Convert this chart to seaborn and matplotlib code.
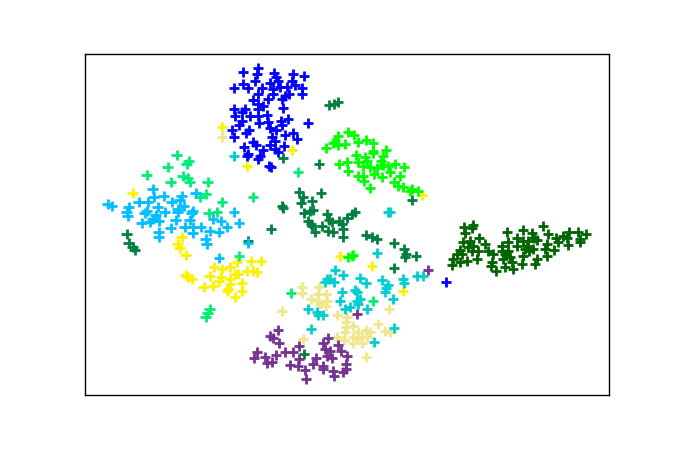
import pandas as pd
import matplotlib
matplotlib.use("Agg")
import matplotlib.pyplot as plt
import seaborn as sns

# embedding coordinates, one list per cluster
blue_pts = [(243,73),(258,69),(257,75),(255,82),(274,74),(276,78),(293,75),(304,77),(292,82),(243,85),(248,89),(234,89),
    (270,84),(278,82),(273,90),(280,88),(287,88),(295,86),(302,89),(302,95),(262,89),(258,95),(289,95),(285,97),(273,95),
    (253,101),(268,100),(282,100),(258,105),(263,107),(234,110),(245,110),(242,113),(235,117),(250,117),(258,110),(258,117),
    (267,116),(283,109),(288,120),(281,122),(268,123),(242,122),(239,126),(259,124),(282,126),(308,124),(232,131),(249,131),
    (246,134),(234,138),(270,129),(276,131),(285,136),(293,134),(297,140),(272,138),(275,142),(253,143),(256,146),(284,147),
    (270,146),(244,148),(275,150),(278,153),(263,151),(248,155),(247,157),(260,157),(258,160),(269,167),(271,168),(446,283)]
lime_pts = [(326,149),(338,137),(335,143),(333,144),(338,146),(345,145),(348,133),(354,136),(358,143),(366,141),(373,144),
    (373,152),(373,154),(386,151),(383,157),(356,156),(365,158),(367,162),(381,162),(339,165),(347,163),(348,172),(358,163),
    (363,167),(370,168),(377,169),(383,166),(388,167),(395,165),(404,168),(390,173),(374,175),(382,178),(358,177),(363,177),
    (364,182),(400,177),(394,183),(398,187),(370,189),(403,188),(410,192),(418,192),(412,190),(348,258),(352,257),(353,256)]
spring_pts = [(177,156),(189,162),(187,165),(168,168),(147,176),(183,177),(188,179),(190,183),(171,183),(208,183),(206,195),
    (200,198),(222,203),(209,214),(217,213),(253,198),(239,257),(210,310),(208,314),(206,318),(298,173),(291,294),(373,302)]
sky_pts = [(108,205),(112,207),(129,208),(127,213),(128,217),(139,203),(153,190),(154,198),(164,197),(148,203),(158,208),
    (147,212),(145,214),(165,213),(172,203),(182,197),(180,201),(184,207),(178,210),(178,213),(196,194),(193,212),(192,214),
    (176,221),(190,221),(156,216),(153,220),(159,222),(150,223),(142,224),(171,229),(185,228),(193,228),(201,228),(193,234),
    (159,233),(159,238),(210,232),(219,233),(221,222),(227,228),(213,220),(234,213),(239,224),(206,240),(207,245),(248,244),(219,259)]
yellow_pts = [(222,128),(292,151),(247,167),(133,194),(178,245),(182,238),(180,249),(186,256),(186,276),(188,278),(192,280),
    (204,288),(213,287),(210,277),(214,268),(222,270),(221,278),(219,282),(230,268),(237,263),(235,275),(230,280),(238,275),
    (228,290),(227,292),(235,298),(242,284),(242,292),(247,272),(251,262),(261,262),(253,272),(257,273),(230,285),(422,196),
    (340,257),(372,267),(403,292)]
sea_pts = [(329,106),(334,105),(338,103),(283,159),(319,165),(127,235),(129,244),(133,248),(135,251),(271,230),(248,242),
    (299,193),(303,198),(301,204),(321,194),(282,207),(283,209),(312,202),(313,211),(310,212),(304,214),(308,222),(311,225),
    (312,227),(315,233),(322,227),(327,215),(329,221),(332,223),(328,232),(333,233),(339,222),(347,219),(352,215),(355,213),
    (342,225),(343,230),(343,238),(366,236),(372,238),(377,240),(394,244),(404,250),(406,255),(405,258),(416,257),(394,269),
    (412,201),(304,355)]
turquoise_pts = [(234,157),(388,213),(390,213),(377,254),(335,271),(343,276),(330,280),(327,280),(325,283),(334,283),(360,279),
    (366,284),(382,281),(388,286),(386,289),(403,280),(404,284),(417,277),(423,277),(342,293),(355,291),(357,293),(340,302),
    (357,302),(360,300),(358,305),(393,300),(385,293),(308,310),(317,313),(318,316),(323,316),(345,310),(350,308),(367,310),
    (311,330),(394,329),(374,343)]
khaki_pts = [(222,138),(302,288),(302,294),(319,288),(318,295),(326,295),(311,300),(318,302),(327,302),(320,305),(326,307),
    (282,312),(337,316),(389,310),(347,318),(346,323),(346,328),(353,327),(345,333),(366,331),(378,325),(385,332),(390,333),
    (337,338),(303,340),(344,341),(353,338),(358,333),(353,344),(362,344),(367,338),(370,333),(366,358),(362,338),(357,340)]
purple_pts = [(428,271),(357,315),(278,331),(270,337),(273,339),(279,344),(257,353),(254,359),(265,358),(267,364),(272,363),
    (276,356),(285,353),(293,353),(299,347),(299,360),(290,366),(298,367),(305,371),(306,380),(328,339),(323,344),(325,350),
    (330,352),(338,346),(341,352),(347,357),(332,359),(327,357),(316,359),(313,365),(323,367),(323,370),(333,372),(334,377),
    (346,365),(346,370),(343,373)]
dark_pts = [(464,228),(473,226),(472,229),(465,234),(507,233),(523,231),(543,227),(548,235),(532,234),(534,239),(569,233),
    (578,233),(586,235),(563,237),(556,239),(567,239),(558,243),(568,246),(580,240),(580,243),(517,239),(523,242),(528,242),
    (537,241),(508,243),(502,247),(463,243),(470,242),(479,239),(485,245),(473,247),(468,248),(460,251),(457,255),(462,255),
    (472,252),(478,252),(488,252),(493,255),(453,260),(452,266),(460,263),(467,262),(477,260),(492,263),(491,267),(496,272),
    (505,268),(513,270),(502,252),(505,255),(508,252),(503,260),(512,263),(522,265),(523,257),(529,252),(525,250),(533,250),
    (547,245),(545,250),(554,251),(547,257),(537,260),(535,265),(517,247),(527,247),(510,258)]

clusters = {
    "khaki": khaki_pts,
    "yellow": yellow_pts,
    "turquoise": turquoise_pts,
    "sea": sea_pts,
    "spring": spring_pts,
    "sky": sky_pts,
    "lime": lime_pts,
    "blue": blue_pts,
    "purple": purple_pts,
    "dark": dark_pts,
}
palette = {
    "khaki": "#f0e68c",
    "yellow": "#fbf200",
    "turquoise": "#00ced1",
    "sea": "#007f3f",
    "spring": "#00ee76",
    "sky": "#00bfff",
    "lime": "#00ff00",
    "blue": "#0000ff",
    "purple": "#763393",
    "dark": "#006400",
}


def build_frame():
    rows = []
    for name, pts in clusters.items():
        df = pd.DataFrame(pts, columns=["x", "y"])
        df["cluster"] = name
        rows.append(df)
    return pd.concat(rows, ignore_index=True)


def main():
    plot_df = build_frame()

    sns.set_theme(style="white")
    fig = plt.figure(figsize=(6.77, 4.52), dpi=100)
    ax = fig.add_axes([84.6 / 677, 1 - 395.6 / 452, 524.4 / 677, 340.9 / 452])

    sns.scatterplot(
        data=plot_df,
        x="x",
        y="y",
        hue="cluster",
        palette=palette,
        marker="+",
        s=56,
        linewidth=2.0,
        legend=False,
        ax=ax,
    )

    ax.set_xlim(85, 609)
    ax.set_ylim(395.5, 54.5)
    ax.set_xticks([])
    ax.set_yticks([])
    ax.set_xlabel("")
    ax.set_ylabel("")
    for spine in ax.spines.values():
        spine.set_color("black")
        spine.set_linewidth(1.0)

    fig.savefig("out.png", dpi=100)


if __name__ == "__main__":
    main()
